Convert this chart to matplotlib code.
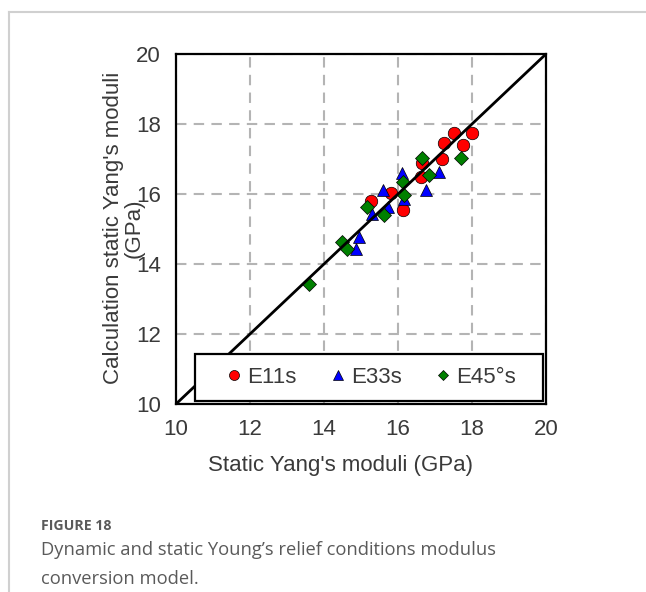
import matplotlib
matplotlib.use("Agg")
import matplotlib.pyplot as plt
from matplotlib.lines import Line2D
from matplotlib.patches import Rectangle

# data (GPa)
e11_static = [17.51, 18.00, 17.25, 17.75, 17.18, 16.66, 16.61, 15.80, 15.28, 16.13]
e11_calc = [17.75, 17.75, 17.45, 17.40, 16.99, 16.88, 16.49, 16.02, 15.81, 15.54]

e33_static = [16.12, 15.59, 17.12, 16.76, 16.15, 15.72, 15.29, 14.95, 14.86]
e33_calc = [16.61, 16.11, 16.63, 16.11, 15.85, 15.62, 15.43, 14.78, 14.42]

e45_static = [16.66, 17.69, 16.84, 16.13, 16.16, 15.15, 15.62, 14.49, 14.61, 13.60]
e45_calc = [17.04, 17.02, 16.54, 16.35, 15.97, 15.62, 15.40, 14.64, 14.43, 13.43]

fit_line = [10, 20]
ticks = [10, 12, 14, 16, 18, 20]

W, H = 646, 592
fig = plt.figure(figsize=(W / 100, H / 100), dpi=100)
plt.rcParams['font.family'] = ['Liberation Sans', 'DejaVu Sans']
txt_col = '#3a3a3a'

# panel border (top and left only)
fig.add_artist(Line2D([9 / W, 9 / W], [0, 1 - 12 / H], transform=fig.transFigure,
                      color='#d0d0d0', lw=1.5))
fig.add_artist(Line2D([9 / W, 1], [1 - 12 / H, 1 - 12 / H], transform=fig.transFigure,
                      color='#d0d0d0', lw=1.5))

ax = fig.add_axes([176 / W, 1 - 404 / H, 370 / W, 350 / H])

ax.plot(e11_static, e11_calc, 'o', color='red', mec='black', mew=0.5, ms=9, label='E11s', zorder=3)
ax.plot(e33_static, e33_calc, '^', color='blue', mec='black', mew=0.5, ms=9, label='E33s', zorder=3)
ax.plot(e45_static, e45_calc, 'D', color='green', mec='black', mew=0.5, ms=7, label='E45°s', zorder=3)
ax.plot(fit_line, fit_line, color='black', lw=2, zorder=4)

ax.set_xlim(10, 20)
ax.set_ylim(10, 20)
ax.set_xticks(ticks)
ax.set_yticks(ticks)
ax.grid(True, color='#b4b4b4', lw=1.5, linestyle=(0, (5, 3.5)))
ax.tick_params(length=0, labelsize=16, labelcolor=txt_col)
ax.tick_params(axis='x', pad=11)
ax.tick_params(axis='y', pad=11)
for s in ax.spines.values():
    s.set_linewidth(1.6)
    s.set_color('black')

# legend box
ax.add_patch(Rectangle((0.051, 0.009), 0.941, 0.134, transform=ax.transAxes,
                       facecolor='white', edgecolor='black', lw=1.6, zorder=5))
leg = ax.legend(loc='center', bbox_to_anchor=(0.53, 0.076), ncol=3, frameon=False,
                fontsize=16, handlelength=0.5, handletextpad=0.35, columnspacing=1.6,
                markerscale=0.8, labelcolor=txt_col)
leg.set_zorder(6)

fig.text(340 / W, 1 - 466 / H, "Static Yang's moduli (GPa)", ha='center', va='center',
         fontsize=16, color=txt_col)
fig.text(124 / W, 1 - 228 / H, "Calculation static Yang's moduli\n(GPa)", ha='center', va='center',
         rotation=90, fontsize=16, color=txt_col, linespacing=1.0)

# caption
cap_font = ['Open Sans', 'DejaVu Sans']
fig.text(41 / W, 1 - 526 / H, "FIGURE 18", ha='left', va='center', fontsize=10.2,
         fontweight='bold', color='#5a5a5a', family=cap_font)
fig.text(41 / W, 1 - 550 / H, "Dynamic and static Young’s relief conditions modulus",
         ha='left', va='center', fontsize=13.2, color='#5a5a5a', family=cap_font)
fig.text(41 / W, 1 - 579 / H, "conversion model.",
         ha='left', va='center', fontsize=13.2, color='#5a5a5a', family=cap_font)

fig.savefig('out.png', dpi=100)
